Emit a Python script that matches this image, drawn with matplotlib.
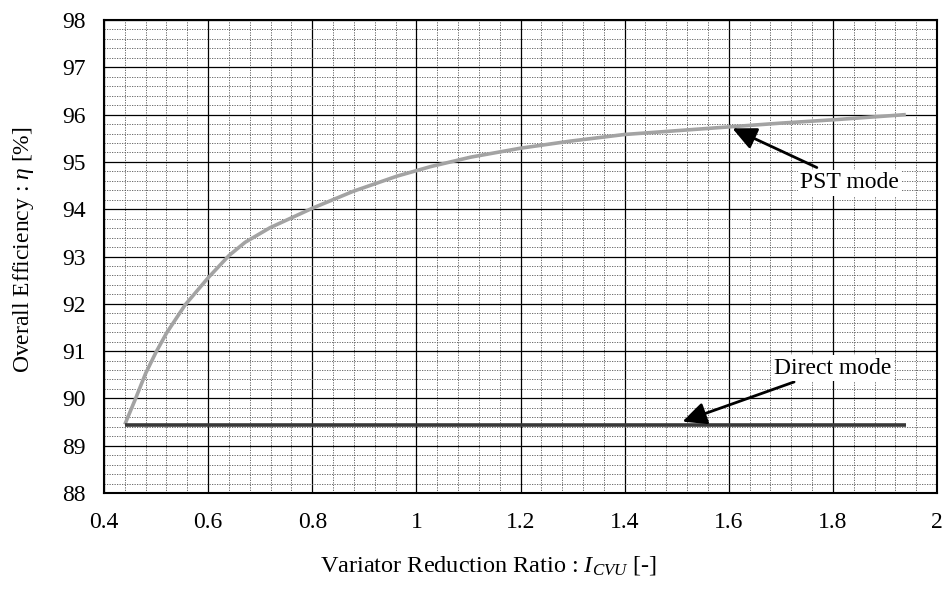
import matplotlib
matplotlib.use('Agg')
import matplotlib.pyplot as plt
from matplotlib.ticker import MultipleLocator
import numpy as np

plt.rcParams['font.family'] = ['Liberation Serif', 'DejaVu Serif']
plt.rcParams['mathtext.fontset'] = 'custom'
plt.rcParams['mathtext.rm'] = 'Liberation Serif'
plt.rcParams['mathtext.it'] = 'Liberation Serif:italic'

# PST mode curve
pst_x = [0.44, 0.46, 0.48, 0.50, 0.52, 0.556, 0.60, 0.64, 0.671, 0.719, 0.80,
         0.879, 0.963, 1.027, 1.104, 1.20, 1.296, 1.40, 1.50, 1.60, 1.70, 1.80, 1.94]
pst_y = [89.45, 89.98, 90.53, 90.98, 91.38, 91.98, 92.55, 93.02, 93.30, 93.61, 94.02,
         94.38, 94.70, 94.90, 95.10, 95.29, 95.44, 95.58, 95.66, 95.74, 95.82, 95.89, 96.0]

# Direct mode
direct_x = [0.44, 1.94]
direct_y = [89.44, 89.44]

fig = plt.figure(figsize=(9.49, 5.92), dpi=100)
ax = fig.add_axes([0.1096, 0.1672, 0.8778, 0.799])

ax.plot(pst_x, pst_y, color='#a3a3a3', lw=2.6, solid_capstyle='butt',
        solid_joinstyle='round', zorder=3)
ax.plot(direct_x, direct_y, color='#383838', lw=2.6, solid_capstyle='butt', zorder=3)

ax.set_xlim(0.4, 2.0)
ax.set_ylim(88, 98)
ax.xaxis.set_minor_locator(MultipleLocator(0.04))
ax.yaxis.set_major_locator(MultipleLocator(1))
ax.yaxis.set_minor_locator(MultipleLocator(0.2))
ax.set_xticks(np.arange(0.4, 2.01, 0.2))
ax.set_xticklabels(['0.4', '0.6', '0.8', '1', '1.2', '1.4', '1.6', '1.8', '2'])

ax.grid(which='major', color='black', lw=0.9, zorder=1)
ax.grid(which='minor', color='#555555', lw=0.6, linestyle=(0, (1.5, 1.5)), zorder=1)
ax.set_axisbelow(True)
for s in ax.spines.values():
    s.set_linewidth(1.5)

ax.tick_params(which='both', length=0)
ax.tick_params(axis='x', labelsize=17, pad=14)
ax.tick_params(axis='y', labelsize=17, pad=13)

ax.set_xlabel('Variator Reduction Ratio : $I_{CVU}$ [-]', fontsize=17.5)
ax.set_ylabel(r'Overall Efficiency : $\eta$ [%]', fontsize=17)
ax.xaxis.set_label_coords(0.462, -0.128)
ax.yaxis.set_label_coords(-0.082, 0.514)

box = dict(boxstyle='square,pad=0.1', fc='white', ec='none')
ax.annotate('PST mode', xy=(1.607, 95.71), xytext=(1.832, 94.56),
            fontsize=17, ha='center', va='center', bbox=box, zorder=5,
            arrowprops=dict(arrowstyle='-|>,head_length=0.85,head_width=0.4',
                            color='black', lw=2, shrinkA=4, shrinkB=0))
ax.annotate('Direct mode', xy=(1.511, 89.51), xytext=(1.80, 90.64),
            fontsize=17, ha='center', va='center', bbox=box, zorder=5,
            arrowprops=dict(arrowstyle='-|>,head_length=0.85,head_width=0.4',
                            color='black', lw=2, shrinkA=2, shrinkB=0))

fig.savefig('out.png', dpi=100)
